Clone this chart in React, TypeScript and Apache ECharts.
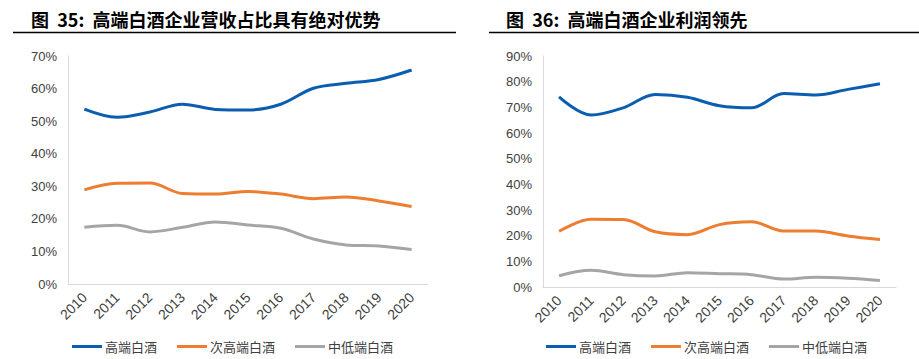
import React, { useEffect, useRef } from "react";
import * as echarts from "echarts";

const years = ["2010", "2011", "2012", "2013", "2014", "2015", "2016", "2017", "2018", "2019", "2020"];
const seriesNames = ["高端白酒", "次高端白酒", "中低端白酒"];

// 图35 营收占比 (%)
const revHigh = [53.7, 51.2, 52.8, 55.2, 53.6, 53.4, 55.2, 60.1, 61.6, 62.8, 65.7];
const revSub = [28.9, 30.9, 31.0, 27.8, 27.6, 28.4, 27.6, 26.2, 26.7, 25.5, 23.8];
const revLow = [17.4, 18.0, 16.0, 17.4, 19.0, 18.1, 17.1, 13.8, 12.0, 11.7, 10.6];

// 图36 利润占比 (%)
const profHigh = [74.1, 67.0, 69.8, 75.0, 73.9, 70.6, 69.8, 75.4, 74.8, 77.0, 79.2];
const profSub = [21.7, 26.4, 26.3, 21.5, 20.4, 24.3, 25.4, 21.8, 21.8, 19.9, 18.5];
const profLow = [4.4, 6.5, 4.8, 4.3, 5.6, 5.2, 4.8, 3.1, 3.8, 3.4, 2.5];

const yTicks1 = { min: 0, max: 70, interval: 10 };
const yTicks2 = { min: 0, max: 90, interval: 10 };

const titles = ["图  35:  高端白酒企业营收占比具有绝对优势", "图  36:  高端白酒企业利润领先"];

const colors = ["#0B5DB0", "#ED7D31", "#A5A5A5"];

export default function App() {
  const ref = useRef<HTMLDivElement>(null);
  useEffect(() => {
    if (!ref.current) return;
    const chart = echarts.init(ref.current, null, { renderer: "svg" });
    const axisFont = { fontFamily: "Liberation Sans", fontSize: 13, color: "#404040" };
    const xAxis = (gi: number) => ({
      type: "category",
      gridIndex: gi,
      data: years,
      boundaryGap: true,
      axisLine: { show: true, lineStyle: { color: "#D9D9D9", width: 1 } },
      axisTick: { show: false },
      axisLabel: { ...axisFont, fontSize: 14, rotate: 45, margin: 11, interval: 0 },
      splitLine: { show: false },
    });
    const yAxis = (gi: number, t: { min: number; max: number; interval: number }) => ({
      type: "value",
      gridIndex: gi,
      min: t.min,
      max: t.max,
      interval: t.interval,
      axisLine: { show: true, lineStyle: { color: "#D9D9D9", width: 1 } },
      axisTick: { show: false },
      splitLine: { show: false },
      axisLabel: { ...axisFont, margin: 11, formatter: "{value}%" },
    });
    const line = (name: string, data: number[], gi: number, ci: number) => ({
      type: "line",
      name,
      data,
      xAxisIndex: gi,
      yAxisIndex: gi,
      smooth: 0.35,
      symbol: "none",
      lineStyle: { color: colors[ci], width: 3 },
      itemStyle: { color: colors[ci] },
    });
    const legend = (left: number) => ({
      left,
      top: 340,
      padding: 0,
      orient: "horizontal",
      icon: "rect",
      itemWidth: 30,
      itemHeight: 3,
      itemGap: 20,
      data: seriesNames,
      textStyle: { fontFamily: "Noto Sans CJK SC", fontSize: 13, color: "#404040", padding: [0, 0, 0, -2] },
    });
    chart.setOption({
      animation: false,
      title: [
        {
          text: titles[0],
          left: 26,
          top: 5,
          textStyle: { fontFamily: "Noto Sans CJK SC", fontSize: 18, fontWeight: "bold", color: "#000" },
        },
        {
          text: titles[1],
          left: 501,
          top: 5,
          textStyle: { fontFamily: "Noto Sans CJK SC", fontSize: 18, fontWeight: "bold", color: "#000" },
        },
      ],
      graphic: [
        { type: "line", shape: { x1: 13, y1: 32.5, x2: 456, y2: 32.5 }, style: { stroke: "#000", lineWidth: 1.5 } },
        { type: "line", shape: { x1: 489, y1: 32.5, x2: 919, y2: 32.5 }, style: { stroke: "#000", lineWidth: 1.5 } },
      ],
      legend: [legend(72), legend(546)],
      grid: [
        { left: 68, right: 491, top: 56, bottom: 75 },
        { left: 543, right: 23, top: 56, bottom: 72 },
      ],
      xAxis: [xAxis(0), xAxis(1)],
      yAxis: [yAxis(0, yTicks1), yAxis(1, yTicks2)],
      series: [
        line(seriesNames[0], revHigh, 0, 0),
        line(seriesNames[1], revSub, 0, 1),
        line(seriesNames[2], revLow, 0, 2),
        line(seriesNames[0], profHigh, 1, 0),
        line(seriesNames[1], profSub, 1, 1),
        line(seriesNames[2], profLow, 1, 2),
      ],
    });
    return () => chart.dispose();
  }, []);
  return <div ref={ref} style={{ width: 919, height: 359, position: "absolute", left: 0, top: 0 }} />;
}
